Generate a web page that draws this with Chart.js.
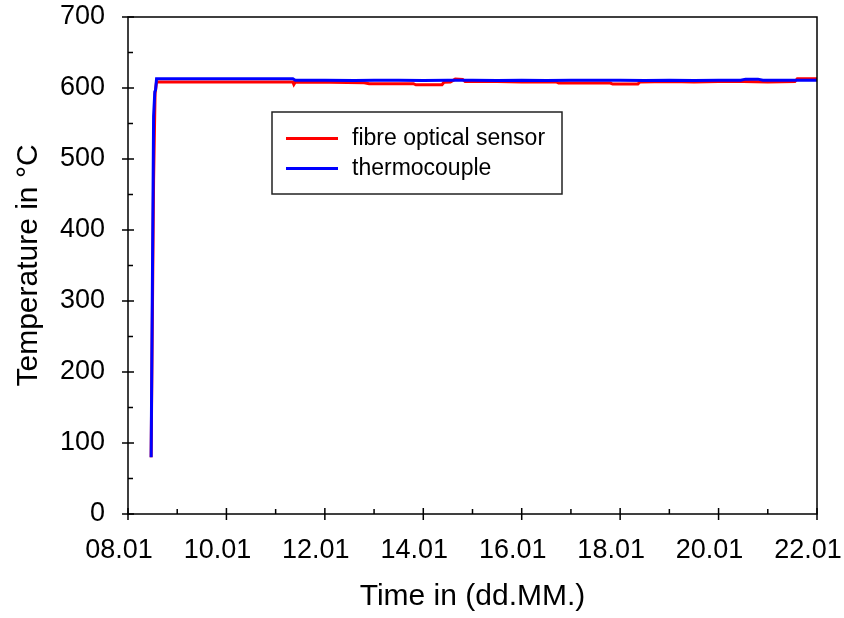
<!DOCTYPE html>
<html>
<head>
<meta charset="utf-8">
<script src="https://cdn.jsdelivr.net/npm/chart.js@4"></script>
<style>
html,body{margin:0;padding:0;background:#fff;}
canvas{display:block;}
</style>
</head>
<body>
<canvas id="c" width="844" height="618"></canvas>
<script>
// ---- data (time in days of January, temperature in °C) ----
const seriesLabels = ['fibre optical sensor', 'thermocouple'];
const seriesColors = ['#ff0000', '#0000ff'];

const fibreTime = [8.47, 8.52, 8.55, 8.58, 11.35, 11.37, 11.40, 12.1, 12.8, 12.9, 13.8, 13.85, 14.38, 14.42, 14.55, 14.65, 14.8, 14.85, 15.5, 16.0, 16.7, 16.75, 17.8, 17.85, 18.36, 18.4, 19.0, 19.5, 20.0, 20.5, 21.0, 21.55, 21.6, 22.0];
const fibreTemp = [80, 470, 592, 608.5, 608.5, 605, 608.5, 608, 607.5, 606, 606, 604.5, 604.5, 608, 608.5, 612.5, 612, 609, 609, 608.5, 608.5, 607, 607, 605.5, 605.5, 608.5, 609, 608.5, 609, 609, 608.5, 609, 613, 613];

const tcTime = [8.47, 8.52, 8.545, 8.56, 8.58, 11.35, 11.40, 12.0, 12.6, 13.0, 13.5, 14.0, 14.5, 15.0, 15.5, 16.0, 16.5, 17.0, 17.5, 18.0, 18.5, 19.0, 19.5, 20.0, 20.45, 20.55, 20.8, 20.9, 21.5, 22.0];
const tcTemp = [80, 560, 595, 597, 613, 613, 611, 611, 610.5, 611, 611, 610.5, 611, 611, 610.5, 611, 610.5, 611, 611, 611, 610.5, 611, 610.5, 611, 611, 612.5, 612.5, 611, 611, 611];

const xTickValues = [8, 10, 12, 14, 16, 18, 20, 22];
const xTickLabels = ['08.01', '10.01', '12.01', '14.01', '16.01', '18.01', '20.01', '22.01'];
const yTickValues = [0, 100, 200, 300, 400, 500, 600, 700];
const xTitle = 'Time in (dd.MM.)';
const yTitle = 'Temperature in °C';

const FONT = "'Liberation Sans', Arial, sans-serif";

function toPoints(xs, ys) { return xs.map((x, i) => ({x: x, y: ys[i]})); }
function zeroPad(s) { s.paddingTop = 0; s.paddingBottom = 0; s.paddingLeft = 0; s.paddingRight = 0; }

const axisPlugin = {
  id: 'axisPlugin',
  afterDatasetsDraw(chart) {
    const ctx = chart.ctx;
    const a = chart.chartArea;
    const xs = chart.scales.x, ys = chart.scales.y;
    ctx.save();
    ctx.strokeStyle = '#000';
    ctx.lineWidth = 1.5;
    ctx.strokeRect(a.left, a.top, a.right - a.left, a.bottom - a.top);
    ctx.beginPath();
    // x ticks
    for (let d = 8; d <= 22; d += 1) {
      const px = xs.getPixelForValue(d);
      if (d % 2 === 0) { ctx.moveTo(px, a.bottom - 6); ctx.lineTo(px, a.bottom + 6); }
      else { ctx.moveTo(px, a.bottom); ctx.lineTo(px, a.bottom - 5); }
    }
    // y ticks
    for (let v = 0; v <= 700; v += 50) {
      const py = ys.getPixelForValue(v);
      if (v % 100 === 0) { ctx.moveTo(a.left - 6, py); ctx.lineTo(a.left + 6, py); }
      else { ctx.moveTo(a.left, py); ctx.lineTo(a.left + 5, py); }
    }
    ctx.stroke();

    // legend box
    const bx = 272, by = 112, bw = 290, bh = 82;
    ctx.fillStyle = '#fff';
    ctx.fillRect(bx, by, bw, bh);
    ctx.lineWidth = 1.5;
    ctx.strokeStyle = '#222';
    ctx.strokeRect(bx, by, bw, bh);
    ctx.font = '23px ' + FONT;
    ctx.textBaseline = 'middle';
    ctx.textAlign = 'left';
    const rows = [138.5, 168.5];
    seriesLabels.forEach((lab, i) => {
      ctx.strokeStyle = seriesColors[i];
      ctx.lineWidth = 3;
      ctx.beginPath();
      ctx.moveTo(286, rows[i]);
      ctx.lineTo(338, rows[i]);
      ctx.stroke();
      ctx.fillStyle = '#000';
      ctx.fillText(lab, 352, rows[i]);
    });
    ctx.restore();
  }
};

new Chart(document.getElementById('c'), {
  type: 'line',
  data: {
    datasets: [
      {label: seriesLabels[0], data: toPoints(fibreTime, fibreTemp), borderColor: seriesColors[0], borderWidth: 3, pointRadius: 0, fill: false, tension: 0, order: 2},
      {label: seriesLabels[1], data: toPoints(tcTime, tcTemp), borderColor: seriesColors[1], borderWidth: 3, pointRadius: 0, fill: false, tension: 0, order: 1}
    ]
  },
  options: {
    responsive: false,
    animation: false,
    devicePixelRatio: 1,
    layout: {padding: {top: 17, right: 27, left: 0, bottom: 0}},
    plugins: {legend: {display: false}, tooltip: {enabled: false}},
    scales: {
      x: {
        type: 'linear',
        min: 8, max: 22,
        afterBuildTicks: (s) => { s.ticks = xTickValues.map(v => ({value: v})); },
        afterFit: (s) => { s.height = 104; zeroPad(s); },
        grid: {display: false, drawTicks: false, tickLength: 0},
        border: {display: false},
        ticks: {
          color: '#000',
          font: {family: FONT, size: 27},
          padding: 20,
          labelOffset: -9,
          maxRotation: 0,
          autoSkip: false,
          callback: (v) => { const i = xTickValues.indexOf(v); return i >= 0 ? xTickLabels[i] : ''; }
        },
        title: {display: true, text: xTitle, color: '#000', font: {family: FONT, size: 30}, padding: {top: 0, bottom: 3}}
      },
      y: {
        type: 'linear',
        min: 0, max: 700,
        afterBuildTicks: (s) => { s.ticks = yTickValues.map(v => ({value: v})); },
        afterFit: (s) => { s.width = 128; zeroPad(s); },
        grid: {display: false, drawTicks: false, tickLength: 0},
        border: {display: false},
        ticks: {color: '#000', font: {family: FONT, size: 27}, padding: 23, autoSkip: false},
        title: {display: true, text: yTitle, color: '#000', font: {family: FONT, size: 30}, padding: {top: 11, bottom: 0}}
      }
    }
  },
  plugins: [axisPlugin]
});
</script>
</body>
</html>
